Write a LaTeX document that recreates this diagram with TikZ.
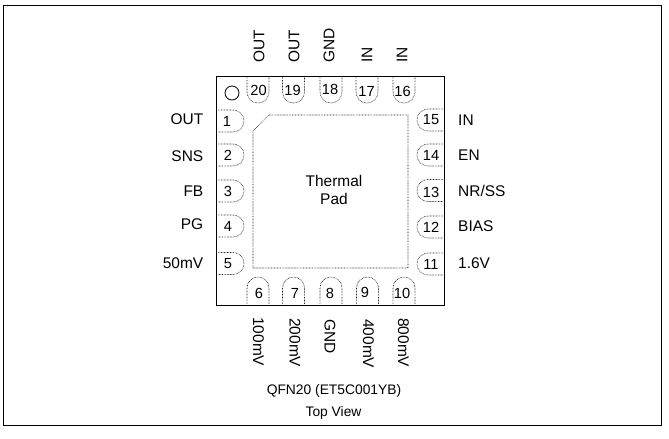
\documentclass[tikz,border=0pt]{standalone}
\usepackage{fontspec}
\setmainfont{Liberation Sans}
\tikzset{
  padline/.style={dash pattern=on 0.6pt off 0.7pt,line width=0.55pt,black!85},
  pinnum/.style={font=\fontsize{12.5}{14}\selectfont,inner sep=0pt},
  pinlabel/.style={font=\fontsize{13.2}{15}\selectfont,inner sep=0pt},
  caption/.style={font=\fontsize{11.8}{13}\selectfont,inner sep=0pt}
}
\begin{document}
\begin{tikzpicture}[x=0.03cm,y=-0.03cm]
  \useasboundingbox (0,0) rectangle (669,438);

  % Frame and package body
  \draw[line width=0.8pt] (3.5,5.5) rectangle (661.5,425.5);
  \draw[line width=1pt] (216.5,76.5) rectangle (444.5,305.5);

  % Thermal pad
  \draw[padline] (253,131) -- (269,115) -- (408,115) -- (408,268) -- (253,268) -- cycle;
  \node[pinlabel,align=center] (thermal) at (334,190) {Thermal\\[0.8pt]Pad};

  % Pin 1 mark
  \draw[line width=0.7pt] (232,93) circle (7);

  % Top pads
  \foreach \x/\nx/\ny/\num/\lx/\name in {258/258.5/90/20/259/OUT,293.5/292.5/90/19/294/OUT,331/330/89.5/18/329/GND,367/366.5/91.5/17/367/IN,404/402.5/91/16/402/IN}{
    \draw[padline] (\x-11,77) -- (\x-11,92) arc (180:0:11) -- (\x+11,77);
    \node[pinnum] (pin\num) at (\nx,\ny) {\num};
    \node[pinlabel,rotate=90,anchor=west] (name\num) at (\lx,63) {\name};
  }

  % Bottom pads
  \foreach \x/\nx/\ny/\num/\lx/\ly/\name in {258/259/293.5/6/258.5/317/100mV,293.5/295/293.5/7/295/318/200mV,331/330/293/8/330/319/GND,367.5/365/292/9/368.5/319/400mV,404/402/293/10/403.5/318/800mV}{
    \draw[padline] (\x-11,304) -- (\x-11,288) arc (180:360:11) -- (\x+11,304);
    \node[pinnum] (pin\num) at (\nx,\ny) {\num};
    \node[pinlabel,rotate=-90,anchor=west] (name\num) at (\lx,\ly) {\name};
  }

  % Left pads
  \foreach \y/\nx/\ny/\num/\ly/\name in {121/227/121/1/119.5/OUT,155/228/155.5/2/156.5/SNS,191/228/191/3/191/FB,226/228/226/4/224/PG,263.5/228/264/5/263.5/50mV}{
    \draw[padline] (218,\y-11) -- (233,\y-11) arc (-90:90:11) -- (218,\y+11);
    \node[pinnum] (pin\num) at (\nx,\ny) {\num};
    \node[pinlabel,anchor=east] (name\num) at (203.5,\ly) {\name};
  }

  % Right pads
  \foreach \y/\ny/\num/\ly/\name in {120/120/15/120/IN,155/155.5/14/155.5/EN,190.5/192/13/191/NR\slash SS,227/227.5/12/226.5/BIAS,264/264.5/11/263/1.6V}{
    \draw[padline] (443,\y-11) -- (428,\y-11) arc (270:90:11) -- (443,\y+11);
    \node[pinnum] (pin\num) at (431,\ny) {\num};
    \node[pinlabel,anchor=west] (name\num) at (458,\ly) {\name};
  }

  % Caption
  \node[caption] (package) at (334,391) {QFN20 (ET5C001YB)};
  \node[caption] (view) at (333.5,413) {Top View};
\end{tikzpicture}
\end{document}
